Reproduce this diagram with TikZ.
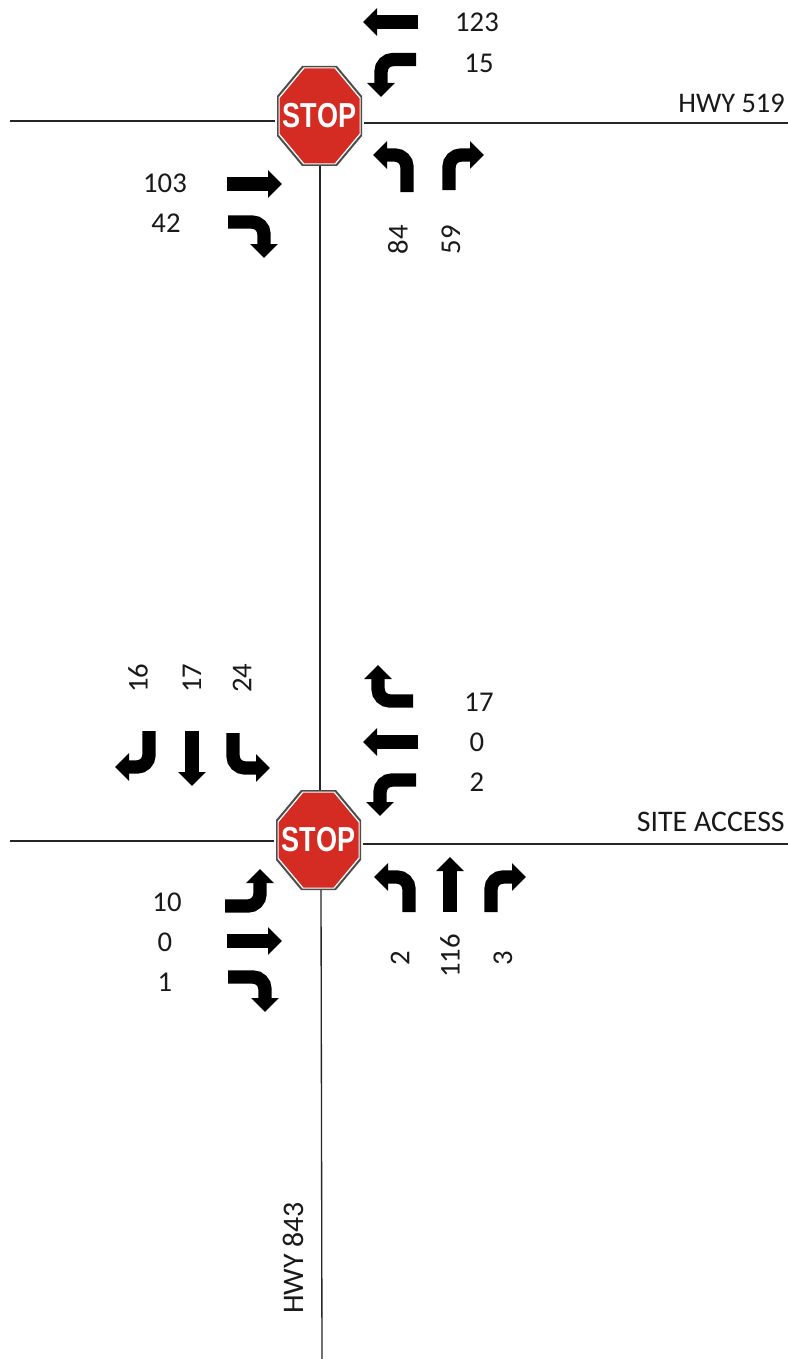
\documentclass[tikz,border=0pt]{standalone}
\usepackage{fontspec}
\setmainfont{Carlito}
\newfontfamily\signfont{Liberation Sans}[Scale=1]
\usetikzlibrary{arrows.meta}
\tikzset{
  road/.style={draw=black!85,line width=1pt},
  mv/.style={draw=black,line width=10pt,rounded corners=9pt,-{Triangle[length=10.5pt,width=20pt]}},
  count/.style={font=\fontsize{21.5}{22}\selectfont,text=black!90,inner sep=0pt},
  vcount/.style={count,rotate=90},
  roadname/.style={font=\fontsize{22.4}{23}\selectfont,text=black!90,inner sep=0pt},
  signbox/.style={minimum width=63.75pt,minimum height=75pt,inner sep=0pt,outer sep=1.5pt,text=white,
    font=\signfont\bfseries\fontsize{26}{27}\selectfont},
}
\definecolor{stopred}{HTML}{D42B23}
\newcommand{\octa}[5]{% cx cy halfw halfh colour
  \fill[#5] (#1-#3,#2-#4+30) -- (#1-#3+25,#2-#4) -- (#1+#3-25,#2-#4) -- (#1+#3,#2-#4+30)
    -- (#1+#3,#2+#4-30) -- (#1+#3-25,#2+#4) -- (#1-#3+25,#2+#4) -- (#1-#3,#2+#4-30) -- cycle;}
\newcommand{\signshape}[2]{%
  \octa{#1}{#2}{42.5}{50}{black!70}
  \octa{#1}{#2}{41}{48.5}{white}
  \octa{#1}{#2}{40}{47.5}{stopred}}
\begin{document}
\begin{tikzpicture}[x=0.75pt,y=-0.75pt]
\useasboundingbox (0,0) rectangle (788,1359);
\fill[white] (0,0) rectangle (788,1359);

% stop signs
\signshape{319.5}{116}
\signshape{318.5}{840}
\node[signbox] (s1) at (319.5,116) {\scalebox{.78}[1]{STOP}};
\node[signbox] (s2) at (318.5,840) {\scalebox{.78}[1]{STOP}};

% road ends
\coordinate (w1) at (10,121);
\coordinate (e1) at (788,123);
\coordinate (w2) at (10,841);
\coordinate (e2) at (788,844);
\coordinate (n2) at (320,790);
\coordinate (v1) at (320,166);
\coordinate (v2) at (321,890);
\coordinate (s3) at (322,1359);
\draw[road] (w1) -- (w1 -| s1.west);
\draw[road] (s1.east |- e1) -- (e1);
\draw[road] (w2) -- (w2 -| s2.west);
\draw[road] (s2.east |- e2) -- (e2);
\draw[road] (v1) -- (n2);
\draw[road] (v2) -- (s3);

% top intersection
\draw[mv] (418,22) -- (363,22);
\draw[mv] (416,59.5) -| (381,97);
\draw[mv] (407,192) |- (373,155);
\draw[mv] (449,190) |- (484,155);
\draw[mv] (227,184) -- (282,184);
\draw[mv] (228,222) -| (264,258);

% bottom intersection
\draw[mv] (149,731) |- (115,767);
\draw[mv] (192,731) -- (192,786);
\draw[mv] (233,733) |- (270,768);
\draw[mv] (413,701) -| (378,665);
\draw[mv] (418,742) -- (363,742);
\draw[mv] (416,780) -| (380,816);
\draw[mv] (409,912) |- (374,877);
\draw[mv] (450,912) -- (450,857);
\draw[mv] (491,912) |- (526,877);
\draw[mv] (225,906) -| (260,869);
\draw[mv] (227,941) -- (282,941);
\draw[mv] (228,977) -| (265,1012);

% counts
\node[count] (a1) at (477,22) {123};
\node[count] (a2) at (479,63) {15};
\node[count] (a3) at (165,183) {103};
\node[count] (a4) at (166,223) {42};
\node[vcount] (a5) at (398,240) {84};
\node[vcount] (a6) at (451,240) {59};
\node[vcount] (b1) at (138,678) {16};
\node[vcount] (b2) at (192,678) {17};
\node[vcount] (b3) at (242,678) {24};
\node[count] (b4) at (479,702) {17};
\node[count] (b5) at (477,742) {0};
\node[count] (b6) at (477,782) {2};
\node[count] (b7) at (167,902) {10};
\node[count] (b8) at (165,942) {0};
\node[count] (b9) at (165,982) {1};
\node[vcount] (b10) at (400,958) {2};
\node[vcount] (b11) at (450,956) {116};
\node[vcount] (b12) at (503,958) {3};

% road names
\node[roadname,anchor=east,font=\fontsize{21.3}{22}\selectfont] (r1) at (785,103) {HWY 519};
\node[roadname,anchor=east] (r2) at (785,822) {SITE ACCESS};
\node[roadname,rotate=90] (r3) at (293,1258) {HWY 843};
\end{tikzpicture}
\end{document}
